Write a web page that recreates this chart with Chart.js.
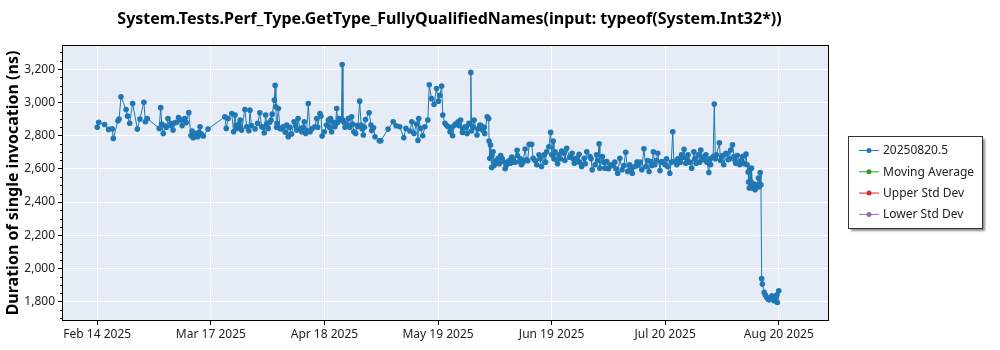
<!DOCTYPE html>
<html>
<head>
<meta charset="utf-8">
<script src="https://cdn.jsdelivr.net/npm/chart.js@4.4.1/dist/chart.umd.min.js"></script>
<style>
  html, body { margin: 0; padding: 0; background: #fff; }
  #wrap { width: 1000px; height: 350px; position: relative; }
</style>
</head>
<body>
<div id="wrap"><canvas id="chart"></canvas></div>
<script>
// days since Feb 14 2025 00:00 for each run
const runDays = [
  0.7, 1.1, 2.7, 3.8, 4.8, 5.1, 6.4, 6.7, 7.2, 8.6, 9.0, 9.6, 10.4, 11.7, 12.4, 13.5, 13.9, 14.4,
  17.7, 18.1, 18.8, 19.4, 20.1, 20.9, 21.5, 22.1, 23.0, 23.7, 24.7, 25.1, 25.8, 26.7, 27.0, 27.6,
  28.3, 28.9, 29.8, 31.1, 35.7, 36.1, 36.6, 37.6, 38.1,
  38.5, 39.0, 39.9, 40.3, 41.2, 41.7, 42.3, 42.6, 44.7, 45.3, 45.8, 46.5, 46.9, 47.6, 48.4, 48.7,
  49.3, 49.5, 49.7, 50.0, 50.4, 50.8, 51.7, 52.7, 53.1, 54.0, 54.7, 55.4, 55.8, 56.8, 57.5, 57.9,
  58.6, 59.1, 60.4, 60.9, 61.8, 62.1, 62.4, 63.0, 63.6, 64.1, 64.7, 65.0, 65.9, 66.4, 67.0, 67.5,
  67.9, 68.1, 68.7, 69.6, 70.5, 71.1, 71.6, 72.2, 72.7, 73.1, 73.7, 74.3, 75.3, 75.8, 76.5, 76.9, 78.1,
  78.5, 80.5, 81.9, 82.7, 83.7, 84.8, 85.4, 86.5, 87.0, 87.6, 88.3, 88.7, 88.9, 89.4, 90.0, 90.6,
  91.4, 91.8, 92.4, 93.1, 93.8, 94.3, 94.7, 95.2, 95.5, 96.1, 97.0, 97.5, 98.2, 98.8, 99.7, 100.4,
  100.9, 101.6, 102.2, 102.7, 103.2, 103.4, 104.1, 104.9, 105.7, 106.4, 107.0, 107.7, 108.1, 108.2,
  108.4, 108.6, 108.9, 109.3, 109.8, 110.7, 111.4, 112.1, 112.6, 113.5, 114.1, 114.8, 115.9, 116.5,
  117.1, 118.1, 118.5, 119.2,
  118.8, 119.9, 120.3, 121.3, 121.9, 122.6, 123.3, 124.0, 124.6, 125.1, 125.4, 125.8, 126.3, 126.7,
  127.4, 128.1, 128.8, 129.5, 131.0, 131.6, 132.2, 132.9, 133.6, 134.3, 135.0, 135.9, 136.5, 137.3,
  137.7, 138.4, 138.6, 139.3, 140.0, 140.5, 141.6, 142.7, 143.5, 144.1, 144.7, 145.7, 146.2, 146.8,
  147.5, 148.2, 149.6, 150.1, 150.7, 151.2, 152.1, 152.6, 153.3, 153.7, 154.5, 155.1, 155.7, 156.5,
  157.2, 157.8, 158.6, 158.9,
  159.7, 160.4, 161.0, 161.7, 162.2, 162.8, 163.8, 164.4, 165.0, 165.6, 166.3, 167.0, 167.7, 168.5,
  169.0, 169.7, 170.0, 170.6, 171.4, 172.0, 172.6, 173.2, 173.8, 174.5, 175.0, 175.4, 175.9, 177.0,
  177.8, 178.7, 179.0, 179.3, 179.6, 179.8, 180.0, 180.2, 180.5, 181.2, 181.8, 182.1, 182.6, 182.8,
  183.0, 183.2, 183.7, 184.4, 185.1, 185.8, 186.4, 187.0, 187.2, 187.3, 187.7,
  // extra runs inside the dense clusters
  18.4, 19.7, 21.0, 22.5, 24.0, 26.4, 27.2, 28.6, 29.2,
  38.8, 39.6, 40.0, 43.0, 44.0, 46.2, 47.2, 48.0, 49.9,
  51.2, 52.3, 53.5, 55.1, 56.3, 57.2, 58.2, 59.6, 61.2,
  64.4, 65.5, 66.1, 66.7, 67.7, 68.4, 69.0, 70.0, 70.8, 72.0, 73.4, 74.0, 76.0,
  96.6, 97.9, 99.0, 100.0, 101.0, 101.9, 103.0, 103.8, 105.2, 106.0, 106.9,
  109.0, 109.6, 110.2, 111.0, 111.8, 112.9, 113.8, 114.4, 115.3, 116.0, 116.8, 117.5,
  120.8, 122.2, 123.7, 126.0, 127.0, 127.8, 129.0, 130.3, 131.3, 133.0, 134.6, 136.2, 138.0, 139.7,
  141.0, 142.0, 143.0, 145.2, 147.2, 148.8, 149.0, 151.7, 152.9, 154.1, 155.4, 156.9, 158.2,
  160.0, 160.7, 161.4, 162.5, 163.3, 164.7, 166.0, 166.7, 168.0, 168.8, 170.3, 171.7, 172.3, 173.5,
  174.2, 175.7, 176.3, 177.4, 178.3,
  179.4, 180.1, 180.8, 181.5, 182.3,
  184.0, 184.8, 185.5, 186.1, 186.7
];

// duration of single invocation (ns), same order as runDays
const runValues = [
  2850, 2880, 2867, 2837, 2840, 2783, 2889, 2899, 3034, 2957, 2917, 2874, 2993, 2839, 2900, 3000, 2883, 2903,
  2843, 2968, 2813, 2857, 2903, 2874, 2833, 2878, 2909, 2893, 2903, 2878, 2938, 2827, 2787, 2813,
  2793, 2853, 2797, 2839, 2913, 2843, 2903, 2933, 2823,
  2923, 2843, 2893, 2833, 2957, 2853, 2829, 2953, 2874, 2937, 2853, 2817, 2923, 2843, 2893, 2929,
  3013, 3102, 2973, 2874, 2963, 2843, 2853, 2863, 2793, 2809, 2883, 2833, 2903, 2823, 2883, 2813,
  2993, 2823, 2853, 2903, 2933, 2917, 2797, 2823, 2863, 2893, 2903, 2823, 2853, 2963, 2903, 2897,
  3228, 2893, 2850, 2903, 2913, 2823, 2813, 2853, 3007, 2863, 2803, 2897, 2937, 2863, 2847, 2793, 2769,
  2769, 2839, 2883, 2859, 2853, 2787, 2843, 2827, 2883, 2813, 2870, 2771, 2903, 2843, 2799, 2853,
  2893, 3106, 3022, 2987, 3083, 3007, 3042, 3098, 2923, 2874, 2853, 2823, 2799, 2863, 2883, 2893,
  2819, 2853, 2813, 2874, 3180, 2827, 2893, 2803, 2863, 2833, 2813, 2913, 2903, 2767,
  2663, 2743, 2608, 2703, 2644, 2663, 2680, 2644, 2600, 2644, 2633, 2660, 2711, 2644,
  2624, 2719, 2654, 2747,
  2648, 2747, 2663, 2624, 2684, 2614, 2684, 2703, 2733, 2819, 2684, 2767, 2703, 2654,
  2684, 2707, 2693, 2723, 2693, 2633, 2663, 2687, 2614, 2663, 2703, 2673, 2594, 2624,
  2684, 2751, 2604, 2673, 2604, 2644, 2624, 2640, 2573, 2663, 2594, 2699, 2584, 2624,
  2573, 2614, 2640, 2594, 2720, 2614, 2584, 2644, 2703, 2624, 2693, 2589, 2644, 2624,
  2614, 2573, 2823, 2644,
  2624, 2654, 2684, 2718, 2634, 2684, 2604, 2703, 2634, 2684, 2713, 2654, 2684, 2578,
  2624, 2674, 2990, 2684, 2757, 2674, 2624, 2693, 2654, 2713, 2744, 2674, 2634, 2624,
  2674, 2688, 2624, 2580, 2484, 2596, 2524, 2604, 2484, 2474, 2504, 2544, 2578, 2504,
  1939, 1906, 1856, 1826, 1812, 1836, 1806, 1826, 1842, 1796, 1866,
  2870, 2850, 2860, 2880, 2860, 2800, 2790, 2820, 2810,
  2860, 2870, 2850, 2860, 2840, 2850, 2870, 2880, 2850,
  2840, 2820, 2850, 2860, 2840, 2850, 2830, 2840, 2850,
  2850, 2880, 2870, 2880, 2900, 2880, 2870, 2850, 2870, 2860, 2840, 2850, 2830,
  2860, 2850, 2870, 2860, 2840, 2850, 2870, 2850, 2840, 2860, 2850,
  2680, 2620, 2650, 2630, 2660, 2620, 2650, 2670, 2640, 2680, 2660, 2640,
  2650, 2660, 2640, 2660, 2630, 2660, 2650, 2670, 2660, 2640, 2630, 2660, 2650, 2640,
  2600, 2620, 2600, 2620, 2600, 2640, 2620, 2650, 2620, 2650, 2640, 2660, 2640,
  2660, 2640, 2670, 2660, 2640, 2660, 2640, 2670, 2640, 2660, 2660, 2650, 2680, 2690,
  2660, 2650, 2680, 2650, 2630,
  2520, 2490, 2510, 2500, 2490,
  1840, 1815, 1820, 1830, 1815
];

const tickDays = [0.7, 31.87, 63.03, 94.2, 125.37, 156.53, 187.7];
const tickLabels = ["Feb 14 2025", "Mar 17 2025", "Apr 18 2025", "May 19 2025", "Jun 19 2025", "Jul 20 2025", "Aug 20 2025"];
const yTicks = [1800, 2000, 2200, 2400, 2600, 2800, 3000, 3200];
const seriesNames = ["20250820.5", "Moving Average", "Upper Std Dev", "Lower Std Dev"];
const seriesColors = ["#1f77b4", "#2ca02c", "#d62728", "#9467bd"];
const chartTitle = "System.Tests.Perf_Type.GetType_FullyQualifiedNames(input: typeof(System.Int32*))";

const FONT = '"Noto Sans", "DejaVu Sans", sans-serif';

// runs in time order
const points = runDays
  .map((d, i) => ({ x: d, y: runValues[i] }))
  .sort((a, b) => a.x - b.x);

const datasets = seriesNames.map((name, i) => ({
  label: name,
  data: i === 0 ? points : [],
  borderColor: seriesColors[i],
  backgroundColor: seriesColors[i],
  borderWidth: 1,
  pointRadius: 2.8,
  pointBorderWidth: 0,
  pointHoverRadius: 2.8,
  tension: 0
}));

const plotDecor = {
  id: "plotDecor",
  beforeDraw(chart) {
    const { ctx, chartArea: a } = chart;
    ctx.save();
    ctx.fillStyle = "#e5ecf6";
    ctx.fillRect(a.left, a.top, a.right - a.left, a.bottom - a.top);
    ctx.restore();
  },
  afterDraw(chart) {
    const { ctx, chartArea: a } = chart;
    const ys = chart.scales.y;
    ctx.save();
    // frame
    ctx.strokeStyle = "#000";
    ctx.lineWidth = 1;
    ctx.strokeRect(a.left - 0.5, a.top - 0.5, a.right - a.left + 1, a.bottom - a.top + 1);
    // minor y ticks
    ctx.beginPath();
    for (let v = 1700; v <= 3300; v += 50) {
      if (v % 200 === 0) continue;
      const py = Math.round(ys.getPixelForValue(v)) + 0.5;
      if (py < a.top || py > a.bottom) continue;
      ctx.moveTo(a.left - 3, py);
      ctx.lineTo(a.left, py);
    }
    ctx.stroke();

    // title, centred over the plot area
    ctx.fillStyle = "#000";
    ctx.font = "bold 16px " + FONT;
    ctx.textAlign = "center";
    ctx.textBaseline = "middle";
    ctx.fillText(chartTitle, (a.left + a.right) / 2 + 4, 19);

    // legend box
    const bx = 848, by = 136, bw = 134, bh = 92;
    ctx.shadowColor = "rgba(0,0,0,0.45)";
    ctx.shadowOffsetX = 3;
    ctx.shadowOffsetY = 3;
    ctx.shadowBlur = 2;
    ctx.fillStyle = "#fff";
    ctx.fillRect(bx, by, bw, bh);
    ctx.shadowColor = "transparent";
    ctx.strokeStyle = "#333";
    ctx.strokeRect(bx + 0.5, by + 0.5, bw, bh);
    ctx.font = "12px " + FONT;
    ctx.textAlign = "left";
    chart.data.datasets.forEach((ds, i) => {
      const ly = by + 14 + i * 21.3;
      ctx.strokeStyle = ds.borderColor;
      ctx.lineWidth = 1;
      ctx.beginPath();
      ctx.moveTo(bx + 11, ly + 0.5);
      ctx.lineTo(bx + 31, ly + 0.5);
      ctx.stroke();
      ctx.fillStyle = ds.backgroundColor;
      ctx.beginPath();
      ctx.arc(bx + 21, ly + 0.5, 2.5, 0, Math.PI * 2);
      ctx.fill();
      ctx.fillStyle = "#222";
      ctx.fillText(ds.label, bx + 35, ly + 1);
    });
    ctx.restore();
  }
};

new Chart(document.getElementById("chart"), {
  type: "line",
  data: { datasets },
  options: {
    responsive: true,
    maintainAspectRatio: false,
    devicePixelRatio: 1,
    animation: false,
    layout: { padding: { top: 46, right: 172, left: 0, bottom: 0 } },
    plugins: {
      legend: { display: false },
      title: { display: false },
      tooltip: { enabled: false }
    },
    scales: {
      x: {
        type: "linear",
        min: -8.7,
        max: 201.2,
        afterBuildTicks: (s) => { s.ticks = tickDays.map((v) => ({ value: v })); },
        afterFit: (s) => { s.height = 30; },
        grid: { color: "#ffffff", lineWidth: 1, tickColor: "#000", tickLength: 5 },
        border: { display: false },
        ticks: {
          autoSkip: false,
          maxRotation: 0,
          padding: 2,
          color: "#222",
          font: { family: FONT, size: 12 },
          callback: (v, i) => tickLabels[i]
        }
      },
      y: {
        min: 1690,
        max: 3339,
        afterBuildTicks: (s) => { s.ticks = yTicks.map((v) => ({ value: v })); },
        afterFit: (s) => { s.width = 63; },
        grid: { color: "#ffffff", lineWidth: 1, tickColor: "#000", tickLength: 5 },
        border: { display: false },
        ticks: {
          padding: 3,
          color: "#222",
          font: { family: FONT, size: 12 },
          callback: (v) => v.toLocaleString("en-US")
        },
        title: {
          display: true,
          text: "Duration of single invocation (ns)",
          color: "#000",
          font: { family: FONT, size: 16, weight: "bold" },
          padding: { top: 4, bottom: 0 }
        }
      }
    }
  },
  plugins: [plotDecor]
});
</script>
</body>
</html>
